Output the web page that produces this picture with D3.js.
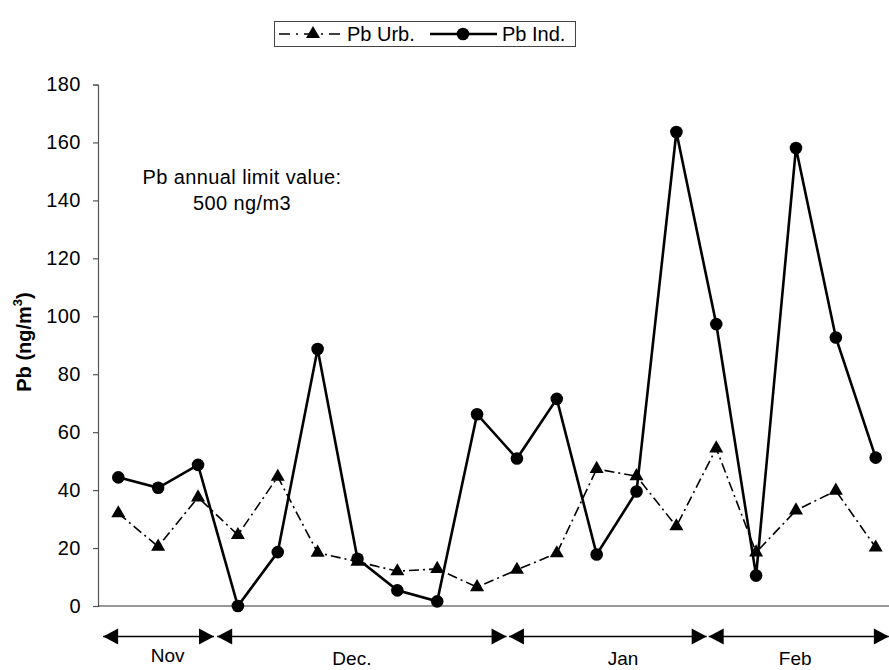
<!DOCTYPE html>
<html>
<head>
<meta charset="utf-8">
<script src="https://cdn.jsdelivr.net/npm/d3@7"></script>
<style>
  html, body { margin: 0; padding: 0; background: #fff; }
  svg { display: block; font-family: Arial, "Liberation Sans", sans-serif; }
</style>
</head>
<body>
<svg id="chart" width="889" height="670"></svg>
<script>
// Sampling days (Nov – Feb), Pb concentrations in ng/m3
const samples = d3.range(1, 21);
const pbUrb = [32, 20.5, 37.5, 24.5, 44.6, 18.4, 15.3, 12, 12.8, 6.5,
               12.5, 18.2, 47.3, 44.8, 27.5, 54.4, 18.5, 33, 39.8, 20.2];
const pbInd = [44.4, 40.8, 48.7, 0, 18.6, 88.7, 16.3, 5.4, 1.6, 66.2,
               50.9, 71.5, 17.8, 39.5, 163.6, 97.3, 10.5, 158.1, 92.7, 51.2];
const yTicks = [0, 20, 40, 60, 80, 100, 120, 140, 160, 180];
// Month spans on the sample axis (in sample units, 1-based)
const monthNames = ["Nov", "Dec.", "Jan", "Feb"];
const monthStart = [0.62, 3.48, 10.8, 15.81];
const monthEnd   = [3.40, 10.74, 15.76, 20.33];
const monthLabelAt = [2.24, 6.86, 13.66, 17.98];

(function draw() {
  const svg = d3.select("#chart");
  const plotLeft = 98, plotTop = 84.5, plotBottom = 606;

  const x = d3.scaleLinear().domain([1, 20]).range([118.3, 875.7]);
  const y = d3.scaleLinear().domain([0, 180]).range([plotBottom, plotTop]);

  // Y axis
  const yAxis = d3.axisLeft(y).tickValues(yTicks).tickSize(5).tickPadding(12);
  const gy = svg.append("g").attr("transform", `translate(${plotLeft},0)`).call(yAxis);
  gy.select(".domain").attr("stroke", "#555").attr("stroke-width", 1.2);
  gy.selectAll(".tick line").attr("stroke", "#555").attr("stroke-width", 1.2);
  gy.selectAll(".tick text").attr("font-size", 20).attr("fill", "#000")
    .attr("letter-spacing", 0.5)
    .attr("font-family", "Arial, 'Liberation Sans', sans-serif");

  // X axis baseline (no ticks)
  const xAxis = d3.axisBottom(x).tickValues([]).tickSizeOuter(0);
  const gx = svg.append("g").attr("transform", `translate(0,${plotBottom})`).call(xAxis);
  gx.select(".domain").attr("d", `M${plotLeft},0H889`).attr("stroke", "#333").attr("stroke-width", 1.2);

  // Y axis title
  const yt = svg.append("text")
    .attr("transform", `translate(31,342) rotate(-90)`)
    .attr("text-anchor", "middle")
    .attr("font-size", 20).attr("font-weight", "bold");
  yt.append("tspan").text("Pb (ng/m");
  yt.append("tspan").text("3").attr("font-size", 13).attr("dy", -9);
  yt.append("tspan").text(")").attr("dy", 9);

  // Annotation
  const note = svg.append("text").attr("text-anchor", "middle")
    .attr("font-size", 20).attr("letter-spacing", 0.4);
  note.append("tspan").attr("x", 242).attr("y", 184).text("Pb annual limit value:");
  note.append("tspan").attr("x", 242).attr("y", 210).text("500 ng/m3");

  // Series lines
  const line = (vals) => d3.line().x((d, i) => x(samples[i])).y(d => y(d))(vals);

  svg.append("path").attr("d", line(pbUrb))
    .attr("fill", "none").attr("stroke", "#000").attr("stroke-width", 1.6)
    .attr("stroke-dasharray", "10,4,2,4");
  svg.append("path").attr("d", line(pbInd))
    .attr("fill", "none").attr("stroke", "#000").attr("stroke-width", 2.6);

  const tri = d3.symbol().type(d3.symbolTriangle).size(85);
  svg.append("g").selectAll("path").data(pbUrb).join("path")
    .attr("d", tri)
    .attr("transform", (d, i) => `translate(${x(samples[i])},${y(d)})`)
    .attr("fill", "#000");
  svg.append("g").selectAll("circle").data(pbInd).join("circle")
    .attr("cx", (d, i) => x(samples[i])).attr("cy", d => y(d))
    .attr("r", 6.3).attr("fill", "#000");

  // Month arrows and labels
  const arrowY = 636.5;
  const head = (tipX, dir) => {
    const b = tipX + dir * 15;
    return `M${tipX},${arrowY}L${b},${arrowY - 8}L${b},${arrowY + 8}Z`;
  };
  const gm = svg.append("g");
  monthNames.forEach((m, i) => {
    const x0 = x(monthStart[i]), x1 = x(monthEnd[i]);
    gm.append("line").attr("x1", x0).attr("x2", x1).attr("y1", arrowY).attr("y2", arrowY)
      .attr("stroke", "#000").attr("stroke-width", 1.5);
    gm.append("path").attr("d", head(x0, 1)).attr("fill", "#000");
    gm.append("path").attr("d", head(x1, -1)).attr("fill", "#000");
    gm.append("text").attr("x", x(monthLabelAt[i])).attr("y", i === 0 ? 662 : 665)
      .attr("text-anchor", "middle").attr("font-size", 19).text(m);
  });

  // Legend
  const lg = svg.append("g");
  lg.append("rect").attr("x", 274.5).attr("y", 21.5).attr("width", 301).attr("height", 25)
    .attr("fill", "#fff").attr("stroke", "#444").attr("stroke-width", 1);
  const ly = 34;
  lg.append("line").attr("x1", 279).attr("x2", 344).attr("y1", ly).attr("y2", ly)
    .attr("stroke", "#000").attr("stroke-width", 1.6).attr("stroke-dasharray", "11,6,2,6");
  lg.append("path").attr("d", tri).attr("transform", `translate(313,${ly})`).attr("fill", "#000");
  lg.append("text").attr("x", 347).attr("y", ly + 7).attr("font-size", 20).text("Pb Urb.");
  lg.append("line").attr("x1", 430).attr("x2", 497).attr("y1", ly).attr("y2", ly)
    .attr("stroke", "#000").attr("stroke-width", 2.6);
  lg.append("circle").attr("cx", 463).attr("cy", ly).attr("r", 6.3).attr("fill", "#000");
  lg.append("text").attr("x", 502).attr("y", ly + 7).attr("font-size", 20).text("Pb Ind.");
})();
</script>
</body>
</html>
